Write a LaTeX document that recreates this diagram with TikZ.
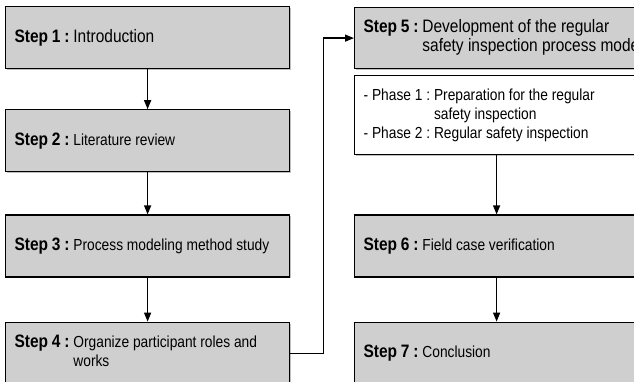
\documentclass[tikz,border=0pt]{standalone}
\usepackage{fontspec}
\setmainfont[FakeStretch=0.86]{Liberation Sans}
\usetikzlibrary{arrows.meta,
                positioning,
                shadows}
\definecolor{boxgray}{RGB}{207,207,207}
\newcommand{\steplabel}[1]{{\fontsize{18}{21}\selectfont\textbf{Step #1 :}}}
\newcommand{\bigtext}{\fontsize{18}{21}\selectfont\spaceskip=.24em\relax}
\frenchspacing

\begin{document}
\begin{tikzpicture}[
		x=1pt, y=1pt,
		>={Triangle[length=9pt,width=7pt]},
		stepbox/.style={draw, line width=1.2pt, fill=boxgray,
			drop shadow={shadow xshift=1.3pt, shadow yshift=-1.3pt, opacity=.5},
			minimum height=62pt, text width=266pt,
			inner xsep=9pt, inner ysep=0pt, align=left,
			font=\fontsize{16}{19}\selectfont\frenchspacing,
			execute at begin node={\spaceskip=.24em\relax}},
		phasebox/.style={stepbox, fill=white, minimum height=79pt},
		link/.style={->, line width=1.3pt}
	]
		\clip (0,0) rectangle (634,-381);
		% left column
		\node [stepbox, anchor=north west] (step1) at (5,-6) {\steplabel{1} \bigtext Introduction};
		\node [stepbox, below=40pt of step1] (step2) {\steplabel{2} Literature review};
		\node [stepbox, below=42pt of step2] (step3) {\steplabel{3} Process modeling method study};
		\node [stepbox, below=44pt of step3] (step4) {\begin{tabular}{@{}l@{ }l@{}}
				\steplabel{4} & Organize participant roles and\\
				& works
			\end{tabular}};
		% right column
		\node [stepbox, anchor=north west, minimum height=61pt] (step5) at (354,-7) {\begin{tabular}{@{}l@{ }l@{}}
				\steplabel{5} & \bigtext Development of the regular\\
				& \bigtext safety inspection process model
			\end{tabular}};
		\node [phasebox, below=6pt of step5] (phase) {\begin{tabular}{@{}l@{ }l@{}}
				- Phase 1 : & Preparation for the regular\\
				& safety inspection\\
				- Phase 2 : & Regular safety inspection
			\end{tabular}};
		\node [stepbox, below=59pt of phase] (step6) {\steplabel{6} Field case verification};
		\node [stepbox, below=44pt of step6] (step7) {\steplabel{7} Conclusion};
		\draw[link]
			(step1) edge (step2)
			(step2) edge (step3)
			(step3) edge (step4)
			(phase) edge (step6)
			(step6) edge (step7);
		\draw[link] (step4.east) -- ++(33,0) |- (step5.west);
	\end{tikzpicture}
\end{document}
